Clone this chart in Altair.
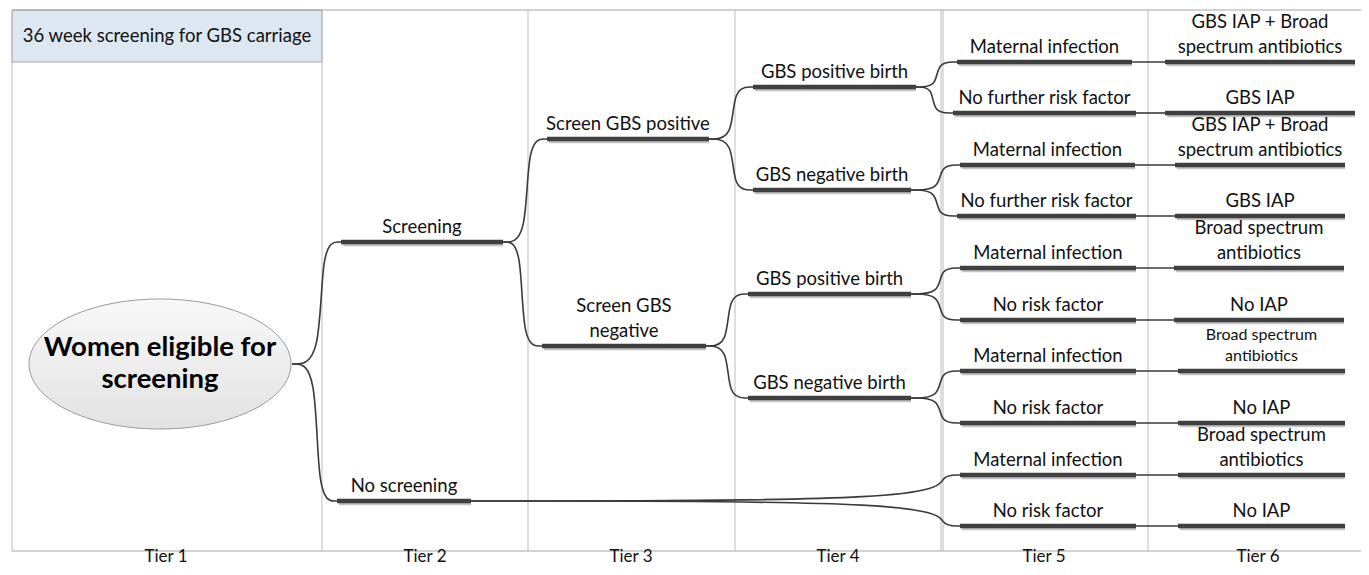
import altair as alt
import pandas as pd

W, H = 1353, 559
FONT = "Lato"

# ---- tree nodes (tier 2..6) : bar extent, bar y, label, parent ----
node_id = list(range(1, 29))
node_x1 = [341, 337, 547, 542, 753, 753, 748, 748,
           957, 953, 960, 957, 960, 960, 960, 960, 960, 960,
           1165, 1165, 1175, 1175, 1174, 1174, 1178, 1178, 1178, 1178]
node_x2 = [503, 471, 709, 706, 916, 911, 911, 911,
           1132, 1136, 1135, 1136, 1136, 1136, 1136, 1136, 1136, 1136,
           1355, 1355, 1345, 1345, 1344, 1344, 1345, 1345, 1345, 1345]
node_y = [242, 501, 139, 346, 87, 190, 294, 398,
          62, 113, 165, 216, 268, 320, 371, 423, 475, 526,
          62, 113, 165, 216, 268, 320, 371, 423, 475, 526]
node_label = ["Screening", "No screening", "Screen GBS positive", "Screen GBS|negative",
              "GBS positive birth", "GBS negative birth", "GBS positive birth", "GBS negative birth",
              "Maternal infection", "No further risk factor", "Maternal infection", "No further risk factor",
              "Maternal infection", "No risk factor", "Maternal infection", "No risk factor",
              "Maternal infection", "No risk factor",
              "GBS IAP + Broad|spectrum antibiotics", "GBS IAP",
              "GBS IAP + Broad|spectrum antibiotics", "GBS IAP",
              "Broad spectrum|antibiotics", "No IAP",
              "Broad spectrum|antibiotics", "No IAP",
              "Broad spectrum|antibiotics", "No IAP"]
node_font = [18.5] * 24 + [16] + [18.5] * 3
node_parent = [0, 0, 1, 1, 3, 3, 4, 4,
               5, 5, 6, 6, 7, 7, 8, 8, 2, 2,
               9, 10, 11, 12, 13, 14, 15, 16, 17, 18]

# root ellipse
root_cx, root_cy, root_rx, root_ry = 160, 364, 131, 65
root_right = 292
root_lines = ["Women eligible for", "screening"]

# frame
col_x = [12, 322, 528, 735, 941, 943, 1148]
frame_top, frame_bottom, frame_left, frame_right = 10, 551, 12, 1361
header_text = "36 week screening for GBS carriage"
header_bottom = 62
tier_labels = ["Tier 1", "Tier 2", "Tier 3", "Tier 4", "Tier 5", "Tier 6"]
tier_x = [166, 425, 631, 838, 1044, 1258]
tier_y = 562

# ---- build tables ----
bars = pd.DataFrame({"id": node_id, "x1": node_x1, "x2": node_x2, "y": node_y})

label_rows = []
for i, lab in enumerate(node_label):
    lines = lab.split("|")
    step = 25 if node_font[i] >= 17 else 21
    cx = (node_x1[i] + node_x2[i]) / 2
    for k, ln in enumerate(lines):
        label_rows.append({"x": cx, "y": node_y[i] - 15 - step * (len(lines) - 1 - k),
                           "t": ln, "fs": node_font[i]})
labels = pd.DataFrame(label_rows)

pos = {0: (root_right, root_cy)}
for i, nid in enumerate(node_id):
    pos[nid] = (node_x2[i], node_y[i])
edge_rows = []
for i, nid in enumerate(node_id):
    px, py = pos[node_parent[i]]
    cx, cy = node_x1[i], node_y[i]
    if abs(py - cy) < 1:
        pts = [(px, py), (cx, cy)]
    else:
        xm = cx - 20
        pts = [(px, py), (xm, py), (xm, cy), (cx, cy)]
    for k, (x, y) in enumerate(pts):
        edge_rows.append({"e": nid, "o": k, "x": x, "y": y})
edges = pd.DataFrame(edge_rows)

xs = alt.Scale(domain=[8, 8 + W], nice=False, zero=False)
ys = alt.Scale(domain=[8, 8 + H], nice=False, zero=False, reverse=True)
X = lambda f: alt.X(f, type="quantitative", scale=xs, axis=None)
Y = lambda f: alt.Y(f, type="quantitative", scale=ys, axis=None)

grid_color = "#bdbdbd"

# header box
header = alt.Chart(pd.DataFrame({"x1": [frame_left], "x2": [col_x[1]],
                                 "y1": [frame_top], "y2": [header_bottom]})).mark_rect(
    fill="#dde7f1", stroke="#a6a6a6", strokeWidth=1).encode(
    x=X("x1"), x2="x2", y=Y("y1"), y2="y2")
header_txt = alt.Chart(pd.DataFrame({"x": [(frame_left + col_x[1]) / 2],
                                     "y": [(frame_top + header_bottom) / 2], "t": [header_text]})).mark_text(
    font=FONT, fontSize=18.5, color="#111111").encode(x=X("x"), y=Y("y"), text="t:N")

vlines = alt.Chart(pd.DataFrame({"x": col_x, "y1": frame_top, "y2": frame_bottom})).mark_rule(
    color=grid_color, strokeWidth=1).encode(x=X("x"), y=Y("y1"), y2="y2")
hlines = alt.Chart(pd.DataFrame({"x1": [frame_left, frame_left], "x2": [frame_right, frame_right],
                                 "y": [frame_top, frame_bottom]})).mark_rule(
    color="#a6a6a6", strokeWidth=1.2).encode(x=X("x1"), x2="x2", y=Y("y"))

tiers = alt.Chart(pd.DataFrame({"x": tier_x, "y": tier_y, "t": tier_labels})).mark_text(
    font=FONT, fontSize=17, color="#111111", baseline="alphabetic").encode(
    x=X("x"), y=Y("y"), text="t:N")

edge_layer = alt.Chart(edges).mark_line(
    interpolate="basis", color="#3a3a3a", strokeWidth=1.6).encode(
    x=X("x"), y=Y("y"), detail="e:N", order="o:Q")

shadow = alt.Chart(bars).mark_rule(color="#c4c4c4", strokeWidth=4.5, xOffset=2, yOffset=2).encode(
    x=X("x1"), x2="x2", y=Y("y"))
bar_layer = alt.Chart(bars).mark_rule(color="#3f3f3f", strokeWidth=4.5).encode(
    x=X("x1"), x2="x2", y=Y("y"))

label_layer = alt.Chart(labels).mark_text(font=FONT, color="#111111").encode(
    x=X("x"), y=Y("y"), text="t:N", size=alt.Size("fs:Q", scale=None, legend=None))

k = 0.5523
r = root_ry / root_rx
ell_path = (f"M -1 0 C -1 {-k*r:.4f} {-k:.4f} {-r:.4f} 0 {-r:.4f} "
            f"C {k:.4f} {-r:.4f} 1 {-k*r:.4f} 1 0 "
            f"C 1 {k*r:.4f} {k:.4f} {r:.4f} 0 {r:.4f} "
            f"C {-k:.4f} {r:.4f} -1 {k*r:.4f} -1 0 Z")
ellipse = alt.Chart(pd.DataFrame({"x": [root_cx], "y": [root_cy]})).mark_point(
    shape=ell_path, size=(2 * root_rx) ** 2, filled=True, opacity=1,
    fill=alt.LinearGradient(gradient="linear", x1=0, y1=0, x2=0, y2=1,
                            stops=[alt.GradientStop(color="#f8f8f8", offset=0),
                                   alt.GradientStop(color="#e2e2e2", offset=1)]),
    stroke="#9a9a9a", strokeWidth=1).encode(x=X("x"), y=Y("y"))
root_txt = alt.Chart(pd.DataFrame({"x": [root_cx, root_cx], "y": [root_cy - 16, root_cy + 16],
                                   "t": root_lines})).mark_text(
    font=FONT, fontSize=27.5, fontWeight="bold", color="#000000").encode(
    x=X("x"), y=Y("y"), text="t:N")

chart = alt.layer(header, vlines, hlines, header_txt, tiers, edge_layer, shadow, bar_layer,
                  label_layer, ellipse, root_txt).properties(
    width=W, height=H, padding=0, autosize="none").configure_view(stroke=None)

chart.save("out.html", embed_options={"renderer": "svg", "actions": False})
